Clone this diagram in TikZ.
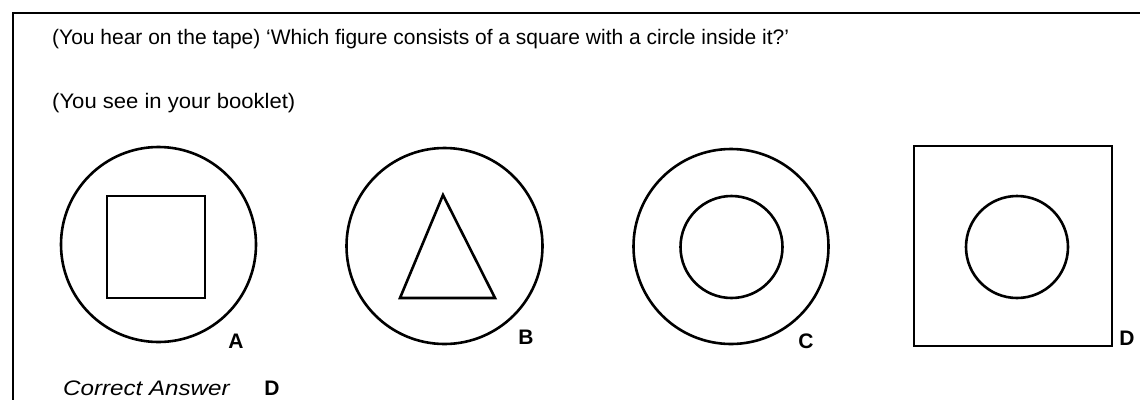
\documentclass[tikz,border=0pt]{standalone}
\usepackage{fontspec}
\setmainfont{Liberation Sans}
\begin{document}
\begin{tikzpicture}[x=1pt,y=-1pt,
  shape line/.style={line width=2.6pt},
  frame line/.style={line width=1.8pt},
  body text/.style={anchor=base west, inner sep=0pt, font=\fontsize{21}{24}\selectfont},
  letter/.style={anchor=base, inner sep=0pt, font=\fontsize{21}{24}\selectfont\bfseries}]
\useasboundingbox (0,0) rectangle (1140,400);
% frame (top and left)
\coordinate (ftop) at (1140,13);
\coordinate (fcorner) at (13,13);
\coordinate (fbot) at (13,400);
\draw[frame line] (ftop) -- (fcorner) -- (fbot);
% texts
\node[body text] (q) at (52,44) {(You hear on the tape) `Which figure consists of a square with a circle inside it?'};
\node[body text] (s) at (52,108) {\scalebox{1.05}[1]{(You see in your booklet)}};
\node[body text, font=\fontsize{21}{24}\selectfont\itshape] (ca) at (63,395) {\scalebox{1.15}[1]{Correct Answer}};
\node[letter] (cad) at (272,395) {D};
% A
\draw[shape line] (158.5,244.5) circle (97.5);
\draw[shape line] (107,196) rectangle (205,298);
\node[letter] (la) at (236,348) {A};
% B
\draw[shape line] (444.5,246) circle (98);
\draw[shape line] (443,195) -- (495,298) -- (400,298) -- cycle;
\node[letter] (lb) at (526,344) {B};
% C
\draw[shape line] (731,246.5) circle (97.5);
\draw[shape line] (731.5,247) circle (51);
\node[letter] (lc) at (806,348) {C};
% D
\draw[shape line] (914,146) rectangle (1112,346);
\draw[shape line] (1017,247) circle (51);
\node[letter] (ld) at (1127,345) {D};
\end{tikzpicture}
\end{document}
